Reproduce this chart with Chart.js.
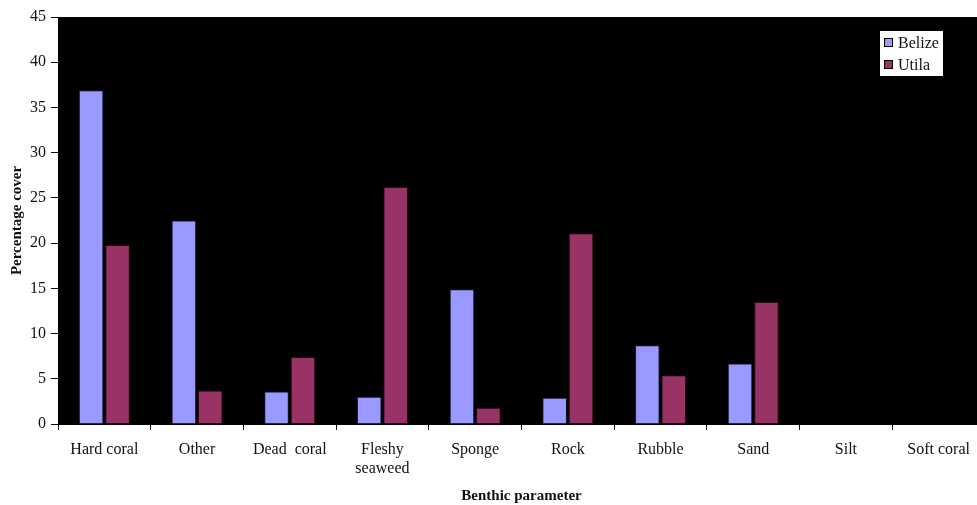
<!DOCTYPE html>
<html>
<head>
<meta charset="utf-8">
<script src="https://cdn.jsdelivr.net/npm/chart.js@4/dist/chart.umd.min.js"></script>
<style>
  html, body { margin: 0; padding: 0; background: #fff; overflow: hidden; }
  #wrap { width: 985px; height: 505px; }
</style>
</head>
<body>
<div id="wrap"><canvas id="BenthicCover" width="985" height="505"></canvas></div>
<script>
// Percentage cover of benthic categories, Belize vs Utila
var categories = ['Hard coral', 'Other', 'Dead  coral', ['Fleshy', 'seaweed'], 'Sponge', 'Rock', 'Rubble', 'Sand', 'Silt', 'Soft coral'];
var belize = [36.9, 22.5, 3.6, 3.0, 14.9, 2.9, 8.7, 6.7, 0, 0];
var utila = [19.8, 3.7, 7.4, 26.2, 1.8, 21.1, 5.4, 13.5, 0, 0];
var yTicks = [0, 5, 10, 15, 20, 25, 30, 35, 40, 45];

var serif = '"Liberation Serif", "DejaVu Serif", serif';

//
// black plot area behind the bars
var plotBackground = {
    id: 'plotBackground',
    beforeDraw: function(chart) {
        var a = chart.chartArea, ctx = chart.ctx;
        ctx.save();
        ctx.fillStyle = '#000';
        ctx.fillRect(a.left, a.top, a.right - a.left, a.bottom - a.top);
        ctx.restore();
    }
};

//
// small boxed legend inside the plot, top right
var boxLegend = {
    id: 'boxLegend',
    afterDraw: function(chart) {
        var ctx = chart.ctx;
        var x = 880, y = 31, w = 63, h = 45;
        ctx.save();
        ctx.fillStyle = '#fff';
        ctx.fillRect(x, y, w, h);
        ctx.font = '16px ' + serif;
        ctx.textBaseline = 'middle';
        chart.data.datasets.forEach(function(ds, i) {
            var cy = y + 12 + i * 22;
            ctx.fillStyle = ds.backgroundColor;
            ctx.fillRect(x + 4, cy - 5, 9, 9);
            ctx.strokeStyle = '#000';
            ctx.lineWidth = 1;
            ctx.strokeRect(x + 4.5, cy - 4.5, 8, 8);
            ctx.fillStyle = '#111';
            ctx.fillText(ds.label, x + 18, cy + 1);
        });
        ctx.restore();
    }
};

var ctx = document.getElementById('BenthicCover').getContext('2d');
new Chart(ctx, {
    type: 'bar',
    data: {
        labels: categories,
        datasets: [{
            label: 'Belize',
            data: belize,
            backgroundColor: '#9999ff',
            borderColor: '#1a1a33',
            borderWidth: 1,
            categoryPercentage: 0.57,
            barPercentage: 0.93
        }, {
            label: 'Utila',
            data: utila,
            backgroundColor: '#993366',
            borderColor: '#2a0a1a',
            borderWidth: 1,
            categoryPercentage: 0.57,
            barPercentage: 0.93
        }]
    },
    options: {
        responsive: false,
        animation: false,
        layout: { padding: { top: 17, right: 0, left: 0, bottom: 0 } },
        plugins: {
            legend: { display: false },
            tooltip: { enabled: false }
        },
        scales: {
            x: {
                grid: { drawOnChartArea: false, drawTicks: true, tickLength: 6, color: '#000', offset: true },
                border: { display: true, color: '#000', width: 1 },
                ticks: { color: '#111', font: { family: serif, size: 16 }, padding: 10, maxRotation: 0, autoSkip: false },
                title: { display: true, text: 'Benthic parameter', color: '#111', font: { family: serif, size: 15, weight: 'bold' }, padding: { top: 4, bottom: 0 } },
                afterFit: function(scale) { scale.height = 81; }
            },
            y: {
                min: 0,
                max: 45,
                afterBuildTicks: function(scale) {
                    scale.ticks = yTicks.map(function(v) { return { value: v }; });
                },
                grid: { drawOnChartArea: false, drawTicks: true, tickLength: 7, color: '#000' },
                border: { display: true, color: '#000', width: 1 },
                ticks: { color: '#111', font: { family: serif, size: 16 }, padding: 5 },
                title: { display: true, text: 'Percentage cover', color: '#111', font: { family: serif, size: 15, weight: 'bold' }, padding: { top: 8, bottom: 4 } },
                afterFit: function(scale) { scale.width = 58; }
            }
        }
    },
    plugins: [plotBackground, boxLegend]
});
</script>
</body>
</html>
